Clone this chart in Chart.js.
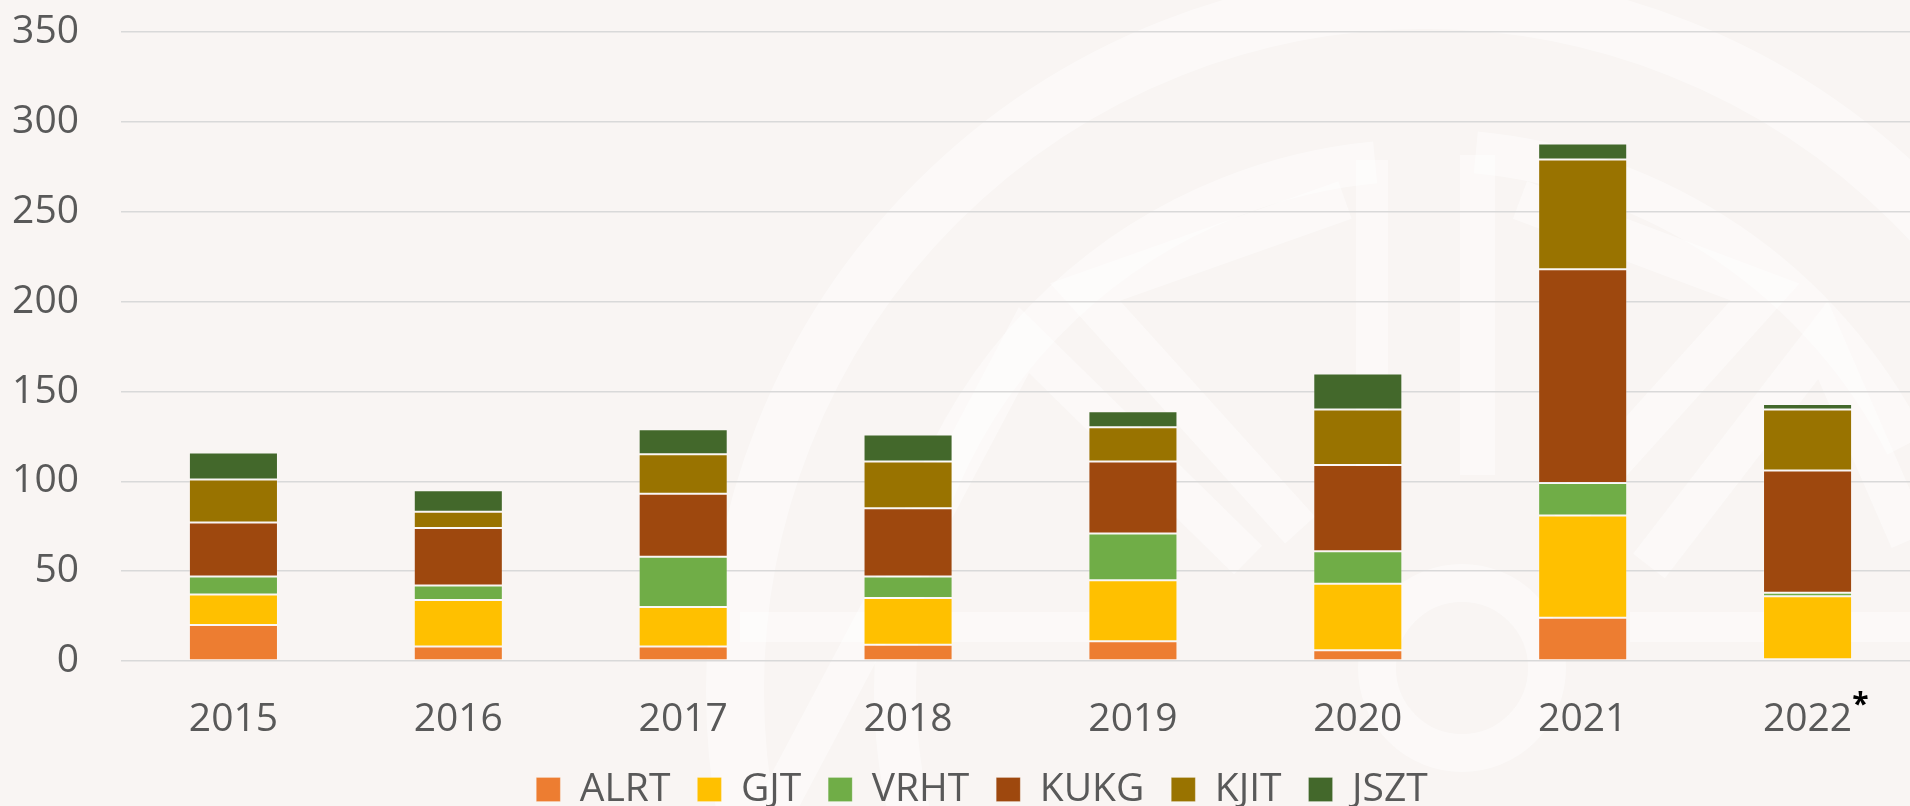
<!DOCTYPE html>
<html><head><meta charset="utf-8">
<script src="https://cdn.jsdelivr.net/npm/chart.js@4/dist/chart.umd.min.js"></script>
<style>
html,body{margin:0;padding:0;overflow:hidden;background:#F9F5F3;width:1910px;height:806px}
#wrap{position:absolute;left:0;top:0;width:2004px;height:819px}
</style></head><body>
<div id="wrap"><canvas id="c" width="2004" height="819"></canvas></div>
<script>
const years = ['2015','2016','2017','2018','2019','2020','2021','2022'];
const ALRT = [20, 8, 8, 9, 11, 6, 24, 1];
const GJT  = [17, 26, 22, 26, 34, 37, 57, 35];
const VRHT = [10, 8, 28, 12, 26, 18, 18, 2];
const KUKG = [30, 32, 35, 38, 40, 48, 119, 68];
const KJIT = [24, 9, 22, 26, 19, 31, 61, 34];
const JSZT = [15, 12, 14, 15, 9, 20, 9, 3];
const yMin = 0, yMax = 350, yStep = 50;
const footnoteMark = '*';

const seriesNames = ['ALRT','GJT','VRHT','KUKG','KJIT','JSZT'];
const seriesData = [ALRT, GJT, VRHT, KUKG, KJIT, JSZT];
const seriesColors = ['#ED7D31','#FFC000','#70AD47','#9E480E','#997300','#43682B'];

const FONT = '"Open Sans", "Noto Sans", sans-serif';
const TXT = '#595959';
const XPAD = 35;

const bgPlugin = {
  id: 'bg',
  beforeDraw(chart) {
    const ctx = chart.ctx;
    ctx.save();
    ctx.fillStyle = '#F9F5F3';
    ctx.fillRect(0, 0, chart.width, chart.height);
    ctx.strokeStyle = 'rgba(255,255,255,0.45)';
    ctx.fillStyle = 'rgba(255,255,255,0.45)';
    ctx.lineCap = 'butt';
    ctx.lineWidth = 58;
    ctx.beginPath(); ctx.arc(1425, 690, 690, 0, Math.PI * 2); ctx.stroke();
    ctx.lineWidth = 42;
    ctx.beginPath(); ctx.arc(1425, 690, 530, Math.PI * 0.88, Math.PI * 1.47); ctx.stroke();
    ctx.beginPath(); ctx.arc(1425, 690, 540, Math.PI * 1.53, Math.PI * 1.85); ctx.stroke();
    ctx.fillRect(1356, 160, 32, 360);
    ctx.fillRect(1460, 155, 35, 320);
    ctx.lineWidth = 40;
    ctx.beginPath(); ctx.moveTo(1345, 200); ctx.lineTo(1085, 292); ctx.lineTo(1300, 530); ctx.stroke();
    ctx.beginPath(); ctx.moveTo(1520, 200); ctx.lineTo(1765, 292); ctx.lineTo(1560, 520); ctx.stroke();
    ctx.beginPath(); ctx.moveTo(777, 806); ctx.lineTo(1024, 340); ctx.lineTo(1248, 560); ctx.stroke();
    ctx.beginPath(); ctx.moveTo(1649, 566); ctx.lineTo(1823, 340); ctx.lineTo(1910, 540); ctx.stroke();
    ctx.lineWidth = 38;
    ctx.beginPath(); ctx.arc(1462, 668, 85, 0, Math.PI * 2); ctx.stroke();
    ctx.fillRect(740, 612, 360, 30);
    ctx.fillRect(1630, 612, 300, 30);
    ctx.restore();
  }
};

const legendShift = {
  id: 'legendShift',
  afterLayout(chart) {
    if (chart.legend) { chart.legend.left += 22; chart.legend.right += 22; }
  }
};

const starPlugin = {
  id: 'star',
  afterDraw(chart) {
    const ctx = chart.ctx;
    const xs = chart.scales.x;
    const i = years.length - 1;
    const cx = xs.getPixelForTick(i);
    ctx.save();
    ctx.font = '39px ' + FONT;
    const w = ctx.measureText(years[i]).width;
    ctx.font = 'bold 30px ' + FONT;
    ctx.fillStyle = '#000000';
    ctx.textBaseline = 'top';
    ctx.textAlign = 'left';
    ctx.fillText(footnoteMark, cx + w / 2, xs.top + XPAD + 23.4 - 29);
    ctx.restore();
  }
};

new Chart(document.getElementById('c'), {
  type: 'bar',
  data: {
    labels: years,
    datasets: seriesNames.map((n, k) => ({
      label: n,
      data: seriesData[k],
      backgroundColor: seriesColors[k],
      borderColor: 'rgba(255,255,255,0.2)',
      borderWidth: 1,
      borderSkipped: false,
      barPercentage: 0.396,
      categoryPercentage: 1.0
    }))
  },
  options: {
    responsive: false,
    animation: false,
    devicePixelRatio: 1,
    layout: { padding: { top: 32, right: 84, left: 0, bottom: 0 } },
    plugins: {
      tooltip: { enabled: false },
      legend: {
        position: 'bottom',
        labels: {
          font: { family: FONT, size: 39 },
          color: TXT,
          boxWidth: 24,
          boxHeight: 24,
          padding: 27
        }
      }
    },
    scales: {
      x: {
        stacked: true,
        grid: { display: false, drawTicks: false },
        border: { display: false },
        ticks: { font: { family: FONT, size: 39 }, color: TXT, padding: XPAD },
        afterFit(scale) { scale.height = 82; }
      },
      y: {
        stacked: true,
        min: yMin, max: yMax,
        grid: { color: '#D9D9D9', lineWidth: 1.5, drawTicks: false },
        border: { display: false },
        ticks: { stepSize: yStep, font: { family: FONT, size: 39 }, color: TXT, padding: 42 },
        afterFit(scale) { scale.width = 121; scale.paddingTop = 0; scale.paddingBottom = 0; }
      }
    }
  },
  plugins: [bgPlugin, legendShift, starPlugin]
});
</script>
</body></html>
